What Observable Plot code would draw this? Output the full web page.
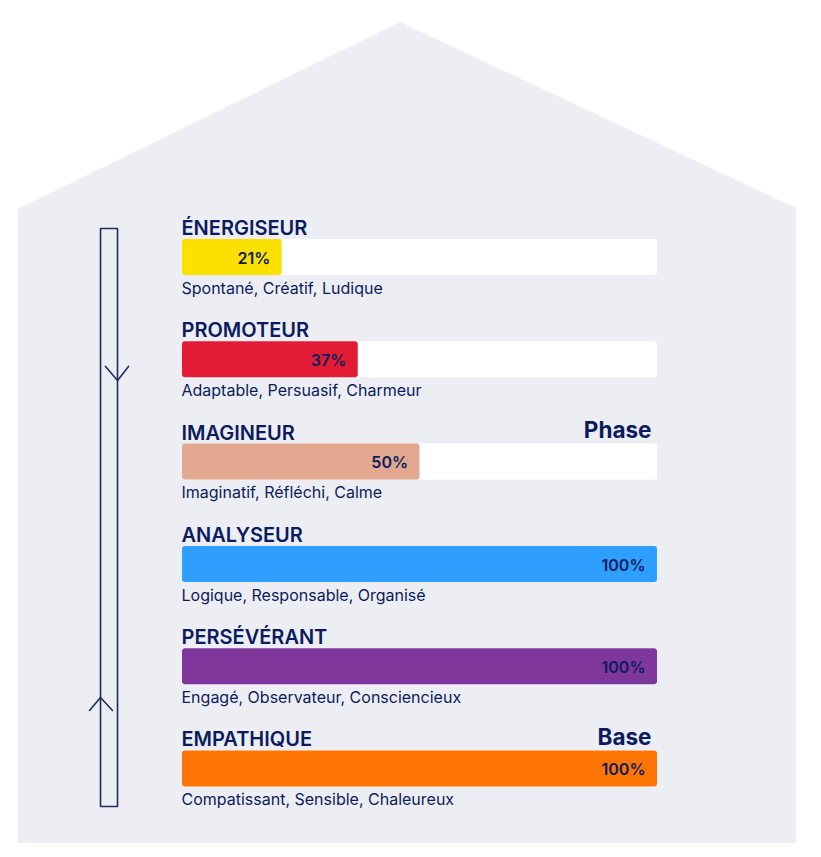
<!DOCTYPE html>
<html lang="fr">
<head>
<meta charset="utf-8">
<script src="https://cdn.jsdelivr.net/npm/d3@7"></script>
<script src="https://cdn.jsdelivr.net/npm/@observablehq/plot@0.6"></script>
<style>
html,body{margin:0;padding:0;background:#fff}
svg{display:block}
</style>
</head>
<body>
<div id="chart"></div>
<script>
const names = ["ÉNERGISEUR","PROMOTEUR","IMAGINEUR","ANALYSEUR","PERSÉVÉRANT","EMPATHIQUE"];
const values = [21,37,50,100,100,100];
const traits = [
  "Spontané, Créatif, Ludique",
  "Adaptable, Persuasif, Charmeur",
  "Imaginatif, Réfléchi, Calme",
  "Logique, Responsable, Organisé",
  "Engagé, Observateur, Consciencieux",
  "Compatissant, Sensible, Chaleureux"
];
const colors = ["#fae100","#e31b35","#e3a990","#2e9fff","#7f379b","#ff7504"];
const stageNames = [{row:2,label:"Phase"},{row:5,label:"Base"}];

// Background house and scale diagram, in chart units (x: percent, y: row)
const house = [
  {x:-34.53,top:-0.469,bottom:5.728},
  {x:45.89,top:-2.297,bottom:5.728},
  {x:129.26,top:-0.479,bottom:5.728}
];
const scaleBox = [
  {x:-17.26,y:-0.283},{x:-13.68,y:-0.283},{x:-13.68,y:5.367},{x:-17.26,y:5.367},{x:-17.26,y:-0.283}
];
const downArrow = [{x:-16.21,y:1.065},{x:-13.68,y:1.202},{x:-11.37,y:1.065}];
const upArrow = [{x:-19.58,y:4.428},{x:-17.26,y:4.301},{x:-14.74,y:4.428}];

const ink = "#0b1c5e";
const font = "Inter, sans-serif";
const rows = names.map((name,i)=>({name,value:values[i],trait:traits[i],color:colors[i],row:i}));
const half = 0.176;

const chart = Plot.plot({
  width:821, height:857, margin:0,
  style:{background:"transparent",fontFamily:font},
  x:{domain:[-38.316,134.526],range:[0,821],axis:null},
  y:{domain:[-2.512,5.865],range:[0,857],axis:null},
  marks:[
    Plot.areaY(house,{x:"x",y1:"bottom",y2:"top",fill:"#edeef4"}),
    Plot.line(scaleBox,{x:"x",y:"y",stroke:"#1c2b5e",strokeWidth:1.6,strokeLinejoin:"miter"}),
    Plot.line(downArrow,{x:"x",y:"y",stroke:"#1c2b5e",strokeWidth:1.6}),
    Plot.line(upArrow,{x:"x",y:"y",stroke:"#1c2b5e",strokeWidth:1.6}),
    Plot.rect(rows,{x1:0,x2:100,y1:d=>d.row-half,y2:d=>d.row+half,fill:"#fff",rx:3}),
    Plot.rect(rows,{x1:0,x2:"value",y1:d=>d.row-half,y2:d=>d.row+half,fill:"color",rx:3}),
    Plot.text(rows,{x:0,y:"row",text:"name",textAnchor:"start",dx:-1,dy:-29,fontSize:20,fontWeight:600,fill:ink}),
    Plot.text(rows,{x:0,y:"row",text:"trait",textAnchor:"start",dx:-1,dy:31,fontSize:16,fill:ink}),
    Plot.text(rows,{x:"value",y:"row",text:d=>d.value+"%",textAnchor:"end",dx:-12,dy:1,fontSize:16,fontWeight:600,fill:ink}),
    Plot.text(stageNames,{x:100,y:"row",text:"label",textAnchor:"end",dx:-6,dy:-31,fontSize:22.5,fontWeight:700,fill:ink})
  ]
});
document.getElementById("chart").append(chart);
</script>
</body>
</html>
